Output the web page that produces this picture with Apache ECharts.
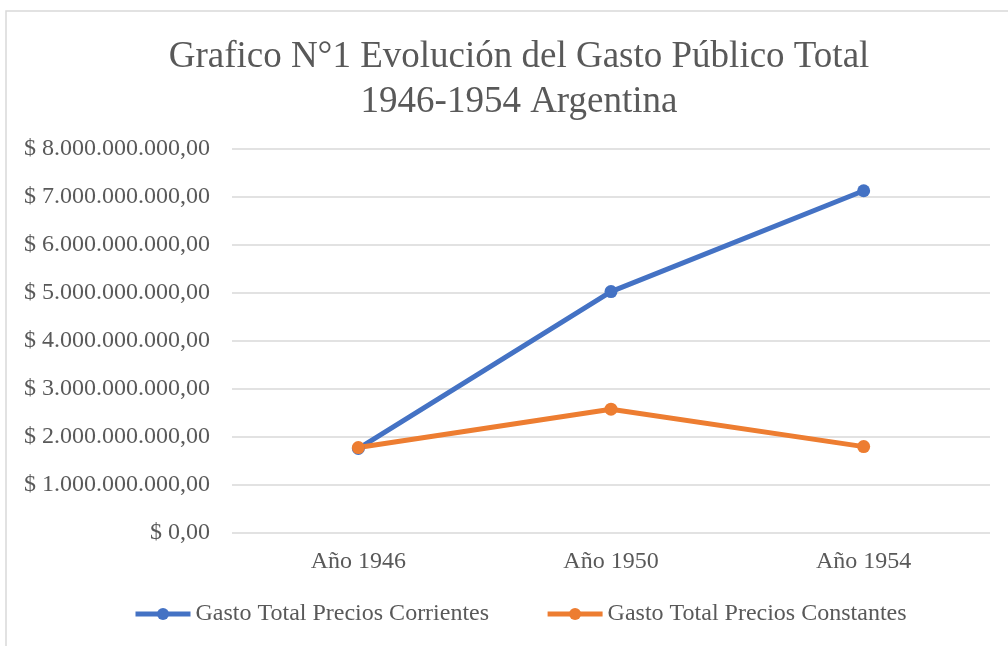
<!DOCTYPE html>
<html>
<head>
<meta charset="utf-8">
<script src="https://cdn.jsdelivr.net/npm/echarts@6/dist/echarts.min.js"></script>
<style>
html,body{margin:0;padding:0;background:#fff;}
#grafico{width:1008px;height:646px;}
</style>
</head>
<body>
<div id="grafico"></div>
<script>
// datos del grafico
var anios = ['Año 1946', 'Año 1950', 'Año 1954'];
var corrientes = [1760000000, 5030000000, 7130000000];
var constantes = [1780000000, 2580000000, 1800000000];
var nombres = ['Gasto Total Precios Corrientes', 'Gasto Total Precios Constantes'];

function formatoPesos(v){
	var s = String(Math.round(v)).replace(/\B(?=(\d{3})+(?!\d))/g, '.');
	return '$ ' + s + ',00';
}

var chart = echarts.init(document.getElementById('grafico'));

var fuente = '"Liberation Serif", "Times New Roman", serif';

option = {
	animation: false,
	textStyle: {fontFamily: fuente},
	title: {
		text: 'Grafico N°1 Evolución del Gasto Público Total\n1946-1954 Argentina',
		left: 514,
		textAlign: 'center',
		top: 30,
		textStyle: {
			fontFamily: fuente,
			fontSize: 37,
			fontWeight: 'normal',
			color: '#595959',
			lineHeight: 45
		}
	},
	grid: {left: 232, right: 18, top: 149, bottom: 113},
	legend: {
		top: 597,
		left: 128,
		itemWidth: 55,
		itemHeight: 15,
		itemGap: 56,
		lineStyle: {width: 5},
		textStyle: {fontFamily: fuente, fontSize: 24, color: '#595959'},
		data: nombres
	},
	xAxis: {
		type: 'category',
		data: anios,
		axisLine: {show: false},
		axisTick: {show: false},
		axisLabel: {fontFamily: fuente, fontSize: 24, color: '#595959', margin: 17}
	},
	yAxis: {
		type: 'value',
		min: 0,
		max: 8000000000,
		interval: 1000000000,
		axisLine: {show: false},
		axisTick: {show: false},
		splitLine: {lineStyle: {color: '#d9d9d9', width: 1.5}},
		axisLabel: {
			fontFamily: fuente,
			fontSize: 24,
			color: '#595959',
			margin: 22,
			formatter: formatoPesos
		}
	},
	series: [
		{
			name: nombres[0],
			type: 'line',
			data: corrientes,
			symbol: 'circle',
			symbolSize: 13,
			itemStyle: {color: '#4472c4'},
			lineStyle: {width: 5, color: '#4472c4'}
		},
		{
			name: nombres[1],
			type: 'line',
			data: constantes,
			symbol: 'circle',
			symbolSize: 13,
			itemStyle: {color: '#ed7d31'},
			lineStyle: {width: 5, color: '#ed7d31'}
		}
	],
	graphic: [{
		type: 'rect',
		shape: {x: 6, y: 11, width: 1010, height: 700},
		style: {fill: 'none', stroke: '#d9d9d9', lineWidth: 1.5},
		silent: true
	}]
};
chart.setOption(option);
</script>
</body>
</html>
